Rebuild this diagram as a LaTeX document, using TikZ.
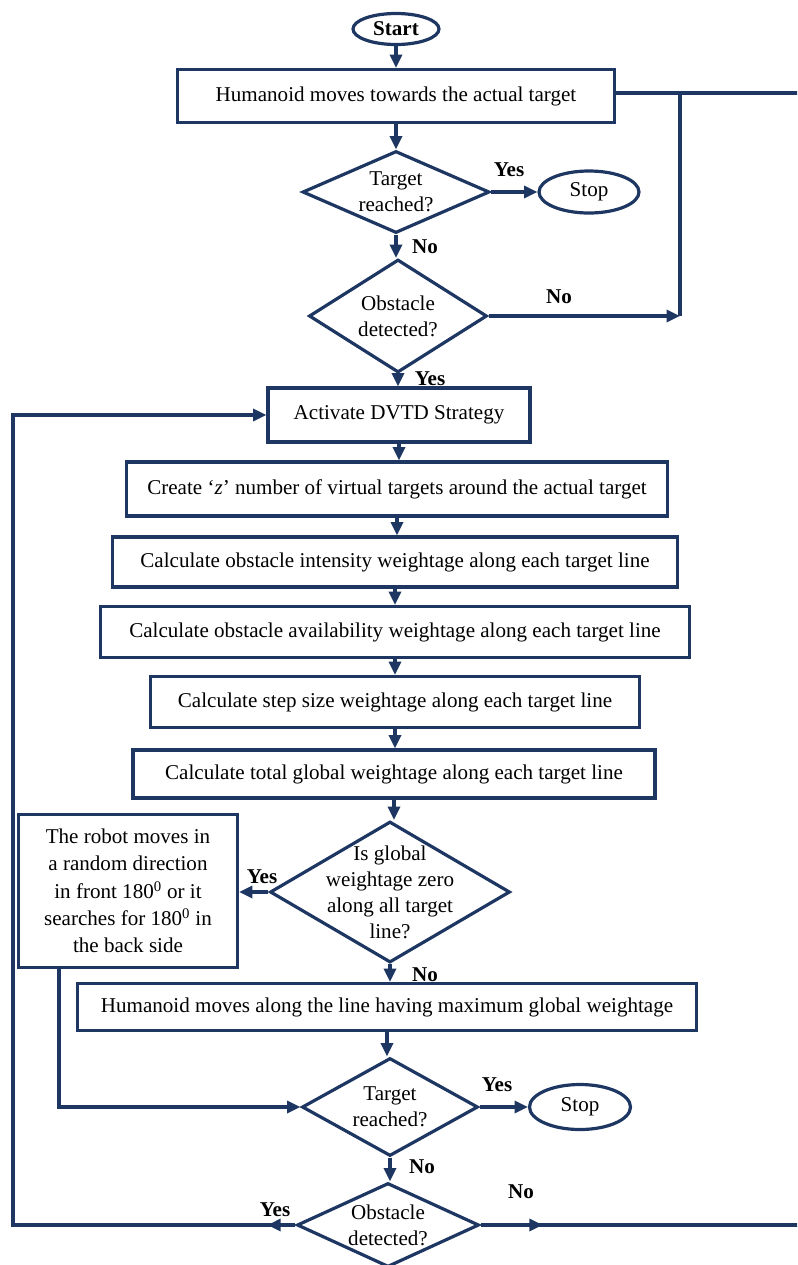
\documentclass[tikz,border=0pt]{standalone}
\usepackage{fontspec}
\setmainfont{Liberation Serif}
\usetikzlibrary{shapes.geometric,arrows.meta,positioning}
\definecolor{navy}{RGB}{30,55,98}
\tikzset{
  base/.style={draw=navy, line width=2.4pt, font=\fontsize{15.8}{20.5}\selectfont, align=center, inner sep=2pt},
  proc/.style={base, rectangle},
  term/.style={base, ellipse},
  decision/.style={base, diamond},
  sz/.style 2 args={minimum width=#1*0.75pt, minimum height=#2*0.75pt},
  flow/.style={draw=navy, line width=2.4pt, -{Triangle[length=10pt,width=9pt]}},
  plain/.style={draw=navy, line width=2.4pt},
  lbl/.style={font=\fontsize{15.8}{18}\selectfont\bfseries},
  dtxt/.style={font=\fontsize{15.8}{19.5}\selectfont, align=center},
}
\begin{document}
\begin{tikzpicture}[x=0.75pt,y=-0.75pt]
\useasboundingbox (0,0) rectangle (797,1265);
\clip (0,0) rectangle (797,1265);
% boxes
\node[term, sz={86}{31}] (start) at (396,29) {\textbf{Start}};
\node[proc, sz={437}{53}] (move) at (396,96) {Humanoid moves towards the actual target};
\node[decision, sz={187}{82}, label={[dtxt]center:Target\\reached?}] (reach1) at (396,192) {};
\node[term, sz={100}{42}] (stop1) at (589,192) {Stop};
\node[decision, sz={178}{113}, label={[dtxt]center:Obstacle\\detected?}] (obst1) at (398,316) {};
\node[proc, sz={262}{54}] (dvtd) at (399,415) {Activate DVTD Strategy};
\node[proc, sz={541}{54}] (create) at (397,489) {Create ‘\textit{z}’ number of virtual targets around the actual target};
\node[proc, sz={565}{50}] (intens) at (395,562) {Calculate obstacle intensity weightage along each target line};
\node[proc, sz={589}{51}] (avail) at (395,632) {Calculate obstacle availability weightage along each target line};
\node[proc, sz={489}{51}] (stepw) at (395,702) {Calculate step size weightage along each target line};
\node[proc, sz={522}{48}] (total) at (394,774) {Calculate total global weightage along each target line};
\node[decision, sz={240}{141}, label={[dtxt]center:Is global\\weightage zero\\along all target\\line?}] (zero) at (390,892) {};
\node[proc, sz={219}{153}] (random) at (128,891) {The robot moves in\\a random direction\\in front 180\textsuperscript{0} or it\\searches for 180\textsuperscript{0} in\\the back side};
\node[proc, sz={619}{47}] (along) at (387,1007) {Humanoid moves along the line having maximum global weightage};
\node[decision, sz={176}{98}, label={[dtxt]center:Target\\reached?}] (reach2) at (390,1107) {};
\node[term, sz={101}{45}] (stop2) at (580,1107) {Stop};
\node[decision, sz={182}{84}, label={[dtxt]center:Obstacle\\detected?}] (obst2) at (388,1225) {};
% free ends
\coordinate (jn) at (680,316);
\coordinate (rt) at (805,93);
\coordinate (lft) at (13,1225);
\coordinate (rb) at (805,1225);
% connectors
\foreach \a/\b in {start/move, move/reach1, reach1/obst1, obst1/dvtd, dvtd/create, create/intens, intens/avail, avail/stepw, stepw/total, total/zero, zero/along, along/reach2, reach2/obst2}
  \draw[flow] (\a.south) -- (\a.south |- \b.north);
\draw[flow] (reach1.east) -- (stop1.west);
\draw[flow] (obst1.east) -- (jn);
\draw[plain] (move.east |- rt) -- (rt);
\draw[plain] (jn) -- (jn |- rt);
\draw[flow] (zero.west) -- (zero.west -| random.east);
\draw[flow] (random.south west) ++(42,0) |- (reach2.west);
\draw[flow] (reach2.east) -- (stop2.west);
\draw[flow] (obst2.west) -- ++(-28,0);
\draw[flow] (obst2.west) -- (lft) |- (dvtd.west);
\draw[flow] (obst2.east) -- ++(62,0);
\draw[plain] (obst2.east) -- (rb);
% labels
\node[lbl] (yes1) at (509,170) {Yes};
\node[lbl] (no1) at (425,247) {No};
\node[lbl] (no2) at (559,297) {No};
\node[lbl] (yes2) at (430,379) {Yes};
\node[lbl] (yes3) at (262,877) {Yes};
\node[lbl] (no3) at (425,975) {No};
\node[lbl] (yes4) at (497,1085) {Yes};
\node[lbl] (no4) at (422,1167) {No};
\node[lbl] (yes5) at (275,1210) {Yes};
\node[lbl] (no5) at (521,1192) {No};
\end{tikzpicture}
\end{document}
